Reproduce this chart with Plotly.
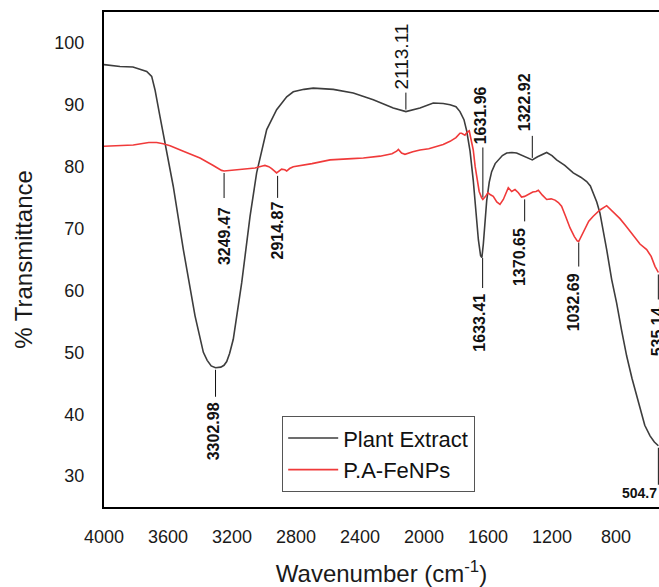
import plotly.graph_objects as go

# ---------------- data ----------------
plant_wn = [4000, 3900, 3819, 3733, 3702, 3681, 3650, 3608, 3567, 3504, 3431, 3379, 3355, 3330,
            3303, 3270, 3250, 3233, 3215, 3192, 3139, 3087, 3046, 2983, 2921, 2858, 2817, 2750,
            2692, 2567, 2442, 2317, 2192, 2113, 2060, 2025, 1942, 1880, 1837, 1800, 1775, 1750,
            1733, 1712, 1692, 1675, 1660, 1646, 1638, 1629, 1620, 1608, 1592, 1577, 1555, 1535,
            1510, 1483, 1450, 1421, 1380, 1337, 1323, 1290, 1260, 1233, 1200, 1171, 1120, 1067,
            1020, 983, 960, 942, 920, 900, 880, 858, 827, 796, 765, 733, 700, 670, 650, 620,
            587, 560, 535]
plant_T = [96.5, 96.2, 96.1, 95.4, 94.6, 92.4, 88.1, 82.5, 76.8, 66.6, 55.9, 50.0, 48.7, 47.8,
           47.5, 47.6, 47.9, 48.5, 49.8, 52.1, 61.3, 72.0, 79.0, 86.0, 89.2, 91.3, 92.1, 92.5,
           92.7, 92.5, 91.9, 90.8, 89.5, 88.9, 89.2, 89.5, 90.3, 90.2, 90.0, 89.7, 88.9, 87.6,
           85.8, 82.5, 77.8, 72.5, 68.2, 65.6, 65.3, 67.5, 70.5, 74.5, 77.5, 79.2, 80.5, 81.1,
           81.8, 82.2, 82.3, 82.2, 81.7, 81.2, 81.1, 81.6, 82.0, 82.3, 81.8, 81.1, 80.2, 79.0,
           78.3, 77.6, 76.9, 75.8, 74.3, 72.5, 69.8, 66.6, 61.8, 58.0, 53.6, 49.4, 45.8, 43.0,
           40.8, 38.2, 36.5, 35.5, 34.9]

fe_wn = [4000, 3900, 3817, 3720, 3671, 3630, 3587, 3504, 3400, 3317, 3265, 3249, 3200, 3150,
         3056, 3010, 2994, 2970, 2952, 2921, 2900, 2890, 2870, 2858, 2840, 2817, 2700, 2587,
         2450, 2379, 2275, 2200, 2171, 2160, 2140, 2119, 2070, 2025, 1970, 1921, 1880, 1837,
         1800, 1775, 1765, 1744, 1730, 1717, 1705, 1692, 1680, 1671, 1655, 1640, 1632, 1615,
         1600, 1587, 1567, 1545, 1525, 1504, 1485, 1473, 1452, 1431, 1410, 1390, 1371, 1348,
         1320, 1300, 1285, 1260, 1233, 1205, 1181, 1160, 1140, 1115, 1087, 1060, 1042, 1033,
         1015, 994, 970, 942, 900, 858, 830, 800, 775, 740, 702, 650, 608, 580, 556, 535]
fe_T = [83.3, 83.4, 83.5, 83.9, 83.9, 83.7, 83.4, 82.5, 81.4, 80.2, 79.4, 79.3, 79.4, 79.5,
        79.8, 80.1, 80.2, 80.0, 79.7, 79.0, 79.4, 79.6, 79.5, 79.3, 79.7, 80.0, 80.5, 81.1,
        81.3, 81.4, 81.7, 82.1, 82.5, 82.8, 82.2, 82.0, 82.4, 82.7, 82.9, 83.3, 83.6, 84.1,
        84.7, 85.4, 85.4, 85.1, 85.6, 85.8, 84.5, 82.7, 80.0, 78.4, 76.0, 75.0, 74.7, 75.2,
        75.8, 75.5, 75.2, 74.3, 73.9, 74.7, 76.0, 76.6, 76.0, 76.3, 75.8, 75.1, 75.2, 75.5,
        75.9, 76.0, 76.2, 75.4, 74.7, 74.8, 74.6, 74.2, 73.6, 72.0, 70.1, 68.7, 68.0, 67.9,
        68.8, 70.1, 71.2, 72.0, 73.0, 73.7, 73.0, 72.1, 71.6, 70.5, 69.3, 67.5, 66.6, 65.5,
        63.9, 62.9]

series_names = ["Plant Extract", "P.A-FeNPs"]

peak_labels = ["3302.98", "3249.47", "2914.87", "2113.11", "1631.96", "1322.92",
               "1633.41", "1370.65", "1032.69", "535.14", "504.7"]
peak_wn = [3302.98, 3249.47, 2914.87, 2113.11, 1631.96, 1322.92,
           1633.41, 1370.65, 1032.69, 535.14, 504.7]
peak_T = [47.5, 79.3, 79.0, 88.9, 74.7, 81.1, 65.4, 75.2, 67.9, 62.9, 34.9]

x_ticks = [4000, 3600, 3200, 2800, 2400, 2000, 1600, 1200, 800]
y_ticks = [30, 40, 50, 60, 70, 80, 90, 100]

# ---------------- styles / label placement (pixels) ----------------
# (line start, line end, text shift, x shift, direction, angle, size, bold)
label_style = [
    (-2, -29, -33, -2, "down", -90, 16, True),
    (-2, -27, -34, 0, "down", -90, 16, True),
    (-3, -25, -27, 0, "down", -90, 16, True),
    (2, 19, 20, -4, "up", -90, 19, False),
    (2, 52, 53, -2, "up", -90, 16, True),
    (2, 24, 27, -7, "up", -90, 16, True),
    (-1, -31, -35, -4, "down", -90, 16, True),
    (-3, -25, -30, -5, "down", -90, 16, True),
    (-1, -25, -30, -5, "down", -90, 16, True),
    (-2, -27, -33, 0, "down", -90, 16, True),
    (-2, -39, -47, 0, "flat", 0, 14, True),
]

X_RANGE = [4000, 531]
Y_RANGE = [25, 105]
FONT = "Liberation Sans, Arial, sans-serif"
BLACK = "#3d3d3d"
RED = "#f03a3a"

fig = go.Figure()
fig.add_trace(go.Scatter(x=plant_wn, y=plant_T, mode="lines", name=series_names[0],
                         line=dict(color=BLACK, width=1.6)))
fig.add_trace(go.Scatter(x=fe_wn, y=fe_T, mode="lines", name=series_names[1],
                         line=dict(color=RED, width=1.6)))

x_end = min(X_RANGE)
for lab, wn, t, st in zip(peak_labels, peak_wn, peak_T, label_style):
    l0, l1, shift, xs, direction, ang, size, bold = st
    xpos = max(wn, x_end + 4)
    fig.add_shape(type="line", xref="x", yref="y", x0=xpos, x1=xpos,
                  ysizemode="pixel", yanchor=t, y0=l0, y1=l1,
                  line=dict(color="#111111", width=1))
    txt = f"<b>{lab}</b>" if bold else lab
    if direction == "flat":
        fig.add_annotation(x=xpos, y=t, xref="x", yref="y", text=txt, showarrow=False,
                           textangle=0, xanchor="right", yanchor="middle",
                           yshift=shift, xshift=1,
                           font=dict(family=FONT, size=size, color="#111111"))
    else:
        fig.add_annotation(x=xpos, y=t, xref="x", yref="y", text=txt, showarrow=False,
                           textangle=ang, xanchor="center",
                           yanchor="top" if direction == "down" else "bottom",
                           yshift=shift, xshift=xs,
                           font=dict(family=FONT, size=size, color="#111111"))

fig.update_layout(
    width=659, height=587,
    margin=dict(l=104, r=0, t=12, b=80),
    paper_bgcolor="white", plot_bgcolor="white",
    font=dict(family=FONT, color="#1a1a1a"),
    showlegend=True,
    legend=dict(x=0.3207, y=0.1838, xanchor="left", yanchor="top",
                bgcolor="white", bordercolor="#555555", borderwidth=1.2,
                font=dict(family=FONT, size=22, color="#111111"),
                tracegroupgap=0, itemwidth=50),
    xaxis=dict(range=X_RANGE, tickvals=x_ticks, ticktext=[str(v) for v in x_ticks],
               showgrid=False, zeroline=False, showline=True, linecolor="black",
               linewidth=2, mirror=True, ticks="", ticklabelstandoff=12,
               tickfont=dict(family=FONT, size=18, color="#1a1a1a"),
               title=dict(text="Wavenumber (cm<sup>-1</sup>)", standoff=20,
                          font=dict(family=FONT, size=24, color="#1a1a1a"))),
    yaxis=dict(range=Y_RANGE, tickvals=y_ticks, ticktext=[str(v) for v in y_ticks],
               showgrid=False, zeroline=False, showline=True, linecolor="black",
               linewidth=2, mirror=False, ticks="", ticklabelstandoff=14,
               tickfont=dict(family=FONT, size=18, color="#1a1a1a"),
               title=dict(text="% Transmittance", standoff=15,
                          font=dict(family=FONT, size=24, color="#1a1a1a"))),
)

fig.write_html("out.html")
